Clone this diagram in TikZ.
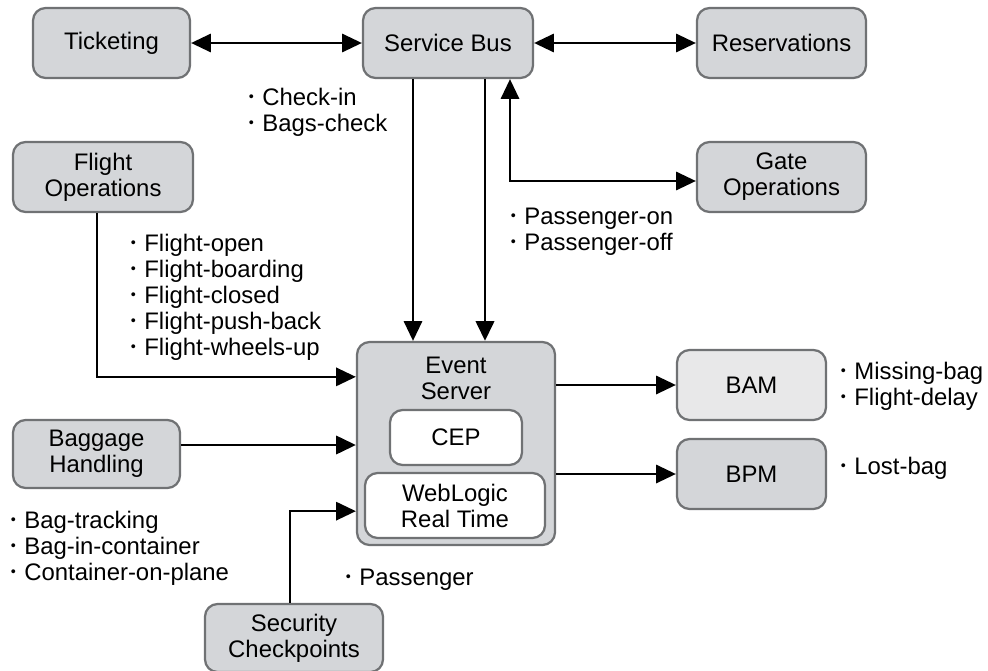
\documentclass[tikz,border=0pt]{standalone}
\usepackage{fontspec}
\setmainfont{Liberation Sans}
\usetikzlibrary{arrows.meta,calc,positioning}
\definecolor{boxfill}{HTML}{D4D6D9}
\definecolor{boxline}{HTML}{707274}
\definecolor{bamfill}{HTML}{E8E8E9}
\newcommand\itm{\raisebox{0.16em}{\scalebox{0.6}{\textbullet}}\hspace{0.35em}}
\tikzset{
	% ---- default
	every path/.style={line width=1.4pt},
	every node/.style={font=\fontsize{17}{18.5}\selectfont},
	% ---- custom
	system/.style={draw=boxline, fill=boxfill, line width=1.6pt, rounded corners=9pt, align=center, inner sep=2pt},
	engine/.style={system, fill=white},
	events/.style={align=left, anchor=north west, inner sep=0pt},
	link/.style={-{Triangle[length=14pt,width=13pt]}},
	both link/.style={{Triangle[length=14pt,width=13pt]}-{Triangle[length=14pt,width=13pt]}},
}

\begin{document}
\begin{tikzpicture}[x=0.025cm, y=-0.025cm]

\useasboundingbox (0,0) rectangle (988,671);

% systems %{{{2

	\node[system, minimum width=3.925cm, minimum height=1.75cm] (tick) at (111.5,43) {Ticketing};
	\node[system, minimum width=4.25cm, minimum height=1.75cm] (bus) at (448,43) {Service Bus};
	\node[system, minimum width=4.225cm, minimum height=1.75cm] (res) at (781.5,43) {Reservations};
	\node[system, minimum width=4.5cm, minimum height=1.75cm] (fops) at (103,177) {Flight\\Operations};
	\node[system, minimum width=4.225cm, minimum height=1.75cm] (gate) at (781.5,177) {Gate\\Operations};
	\node[system, minimum width=4.175cm, minimum height=1.7cm] (bag) at (96.5,454) {Baggage\\Handling};
	\node[system, minimum width=4.45cm, minimum height=1.7cm] (sec) at (294,638) {Security\\Checkpoints};
	\node[system, fill=bamfill, minimum width=3.725cm, minimum height=1.75cm] (bam) at (751.5,385) {BAM};
	\node[system, minimum width=3.725cm, minimum height=1.75cm] (bpm) at (751.5,474) {BPM};

% event server %{{{2

	\node[system, minimum width=4.95cm, minimum height=5.075cm,
		label={[align=center, anchor=north, inner sep=0pt, yshift=-11pt]north:Event\\Server}] (es) at (456,443.5) {};
	\node[engine, minimum width=3.3cm, minimum height=1.375cm] (cep) at (456,437.5) {CEP};
	\node[engine, minimum width=4.5cm, minimum height=1.625cm] (wlrt) at (455,505.5) {WebLogic\\Real Time};

% connectors %{{{2

	\draw[both link] (tick) -- (bus);
	\draw[both link] (bus) -- (res);
	\draw[link] ($(bus.south)+(-35,0)$) coordinate (down1) -- (down1 |- es.north);
	\draw[link, line width=1.9pt] ($(bus.south)+(37,0)$) coordinate (down2) -- (down2 |- es.north);
	\draw[both link] ($(gate.west)+(0,4)$) -| ($(bus.south)+(62,0)$);
	\draw[link] ($(fops.south)+(-6,0)$) |- ($(es.north west)+(0,36)$);
	\draw[link, line width=1.8pt] ($(bag.east)+(0,-9)$) coordinate (bagout) -- (bagout -| es.west);
	\draw[link] ($(sec.north)+(-4,0)$) |- ($(es.south west)+(0,-35)$);
	\draw[link] (bam.west -| es.east) -- (bam.west);
	\draw[link] (bpm.west -| es.east) -- (bpm.west);

% event labels %{{{2

	\node[events] (cklist) at (248,87) {\itm Check-in\\\itm Bags-check};
	\node[events] (paxlist) at (510,207) {\itm Passenger-on\\\itm Passenger-off};
	\node[events] (fltlist) at (130,233) {\itm Flight-open\\\itm Flight-boarding\\\itm Flight-closed\\\itm Flight-push-back\\\itm Flight-wheels-up};
	\node[events] (baglist) at (10,510) {\itm Bag-tracking\\\itm Bag-in-container\\\itm Container-on-plane};
	\node[events] (paxcheck) at (345,568) {\itm Passenger};
	\node[events] (bamlist) at (840,361) {\itm Missing-bag\\\itm Flight-delay};
	\node[events] (bpmlist) at (840,456) {\itm Lost-bag};

% closing %{{{2

\end{tikzpicture}
\end{document}
